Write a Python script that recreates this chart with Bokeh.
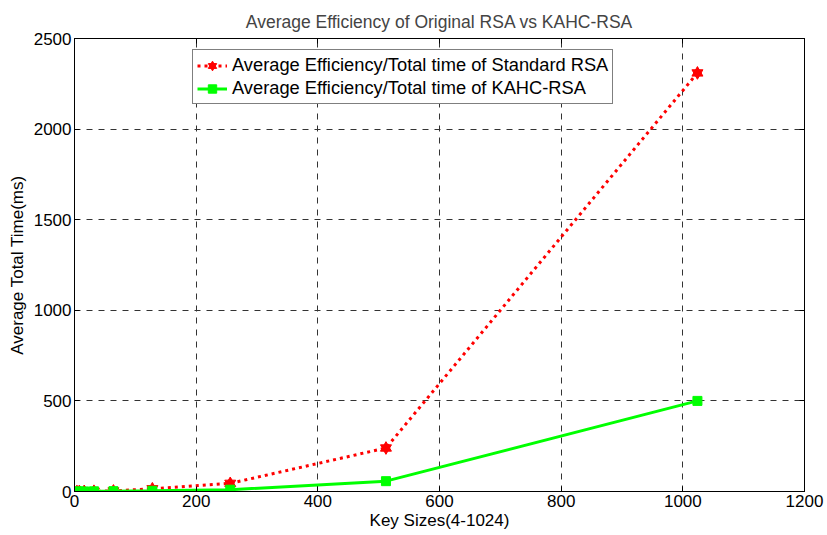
from bokeh.plotting import figure
from bokeh.models import (LinearAxis, FixedTicker, Range1d, Legend, LegendItem,
                          CustomJSTickFormatter, ColumnDataSource, Grid)
from bokeh.embed import file_html
from bokeh.resources import INLINE

# Key sizes (bits) and average total time (ms) for each scheme
key_sizes = [4, 8, 16, 32, 64, 128, 256, 512, 1024]
standard_rsa_ms = [0.1, 0.3, 0.8, 1.5, 3, 15, 45, 240, 2310]
kahc_rsa_ms = [0.1, 0.2, 0.5, 1, 2, 4, 10, 57, 500]

x_ticks = [0, 200, 400, 600, 800, 1000, 1200]
y_ticks = [0, 500, 1000, 1500, 2000, 2500]

FONT = "Liberation Sans"

p = figure(width=827, height=535, output_backend="svg", toolbar_location=None,
           x_range=Range1d(0, 1200), y_range=Range1d(0, 2500),
           x_axis_type=None, y_axis_type=None,
           min_border_left=74, min_border_right=23,
           min_border_top=38, min_border_bottom=44)
p.background_fill_color = "white"
p.border_fill_color = "white"
p.outline_line_color = "black"
p.outline_line_width = 1

p.title.text = "Average Efficiency of Original RSA vs KAHC-RSA"
p.title.text_font = FONT
p.title.text_font_size = "17.5px"
p.title.text_font_style = "normal"
p.title.align = "center"
p.title.standoff = 14


def style_axis(ax, labels=True):
    ax.axis_line_color = "black"
    ax.major_tick_line_color = "black"
    ax.major_tick_in = 5
    ax.major_tick_out = 0
    ax.minor_tick_line_color = None
    if labels:
        ax.major_label_text_font = FONT
        ax.major_label_text_font_size = "17px"
        ax.major_label_text_color = "black"
        ax.axis_label_text_font = FONT
        ax.axis_label_text_font_size = "17px"
        ax.axis_label_text_font_style = "normal"
        ax.axis_label_text_color = "black"
    else:
        ax.formatter = CustomJSTickFormatter(code="return ''")
        ax.major_label_text_color = None
        ax.major_label_standoff = 0


xb = LinearAxis(ticker=FixedTicker(ticks=x_ticks), axis_label="Key Sizes(4-1024)")
style_axis(xb)
xb.major_label_standoff = 3
xb.axis_label_standoff = 1
p.add_layout(xb, "below")

yl = LinearAxis(ticker=FixedTicker(ticks=y_ticks), axis_label="Average Total Time(ms)")
style_axis(yl)
yl.major_label_standoff = 3
yl.axis_label_standoff = 4
p.add_layout(yl, "left")

xt = LinearAxis(ticker=FixedTicker(ticks=x_ticks))
style_axis(xt, labels=False)
p.add_layout(xt, "above")

yr = LinearAxis(ticker=FixedTicker(ticks=y_ticks))
style_axis(yr, labels=False)
p.add_layout(yr, "right")

# dashed black grid at the interior ticks
for dim, ticks in ((0, x_ticks), (1, y_ticks)):
    g = Grid(dimension=dim, ticker=FixedTicker(ticks=ticks))
    g.grid_line_color = "#333333"
    g.grid_line_width = 1
    g.grid_line_dash = "6 6"
    p.add_layout(g, "center")

src = ColumnDataSource(dict(x=key_sizes, std=standard_rsa_ms, kahc=kahc_rsa_ms))

# standard RSA: red dotted line with hexagram markers (two overlaid triangles)
r_line = p.line("x", "std", source=src, line_color="#FF0000", line_width=3,
                line_dash="3 4")
r_up = p.scatter("x", "std", source=src, marker="triangle", size=11,
                 fill_color="#FF0000", line_color="#FF0000")
r_dn = p.scatter("x", "std", source=src, marker="inverted_triangle", size=11,
                 fill_color="#FF0000", line_color="#FF0000")

# KAHC-RSA: green solid line with square markers
g_line = p.line("x", "kahc", source=src, line_color="#00FF00", line_width=3)
g_sq = p.scatter("x", "kahc", source=src, marker="square", size=9,
                 fill_color="#00FF00", line_color="#00FF00")

legend = Legend(items=[
    LegendItem(label="Average Efficiency/Total time of Standard RSA",
               renderers=[r_line, r_up, r_dn]),
    LegendItem(label="Average Efficiency/Total time of KAHC-RSA",
               renderers=[g_line, g_sq]),
], location=(118, 387))
legend.label_text_font = FONT
legend.label_text_font_size = "18.3px"
legend.label_text_color = "black"
legend.border_line_color = "black"
legend.border_line_width = 1
legend.background_fill_color = "white"
legend.background_fill_alpha = 1
legend.glyph_width = 30
legend.glyph_height = 21
legend.label_height = 21
legend.label_standoff = 5
legend.padding = 4
legend.spacing = 1
legend.margin = 0
p.add_layout(legend, "center")

open("out.html", "w").write(file_html(p, INLINE))
